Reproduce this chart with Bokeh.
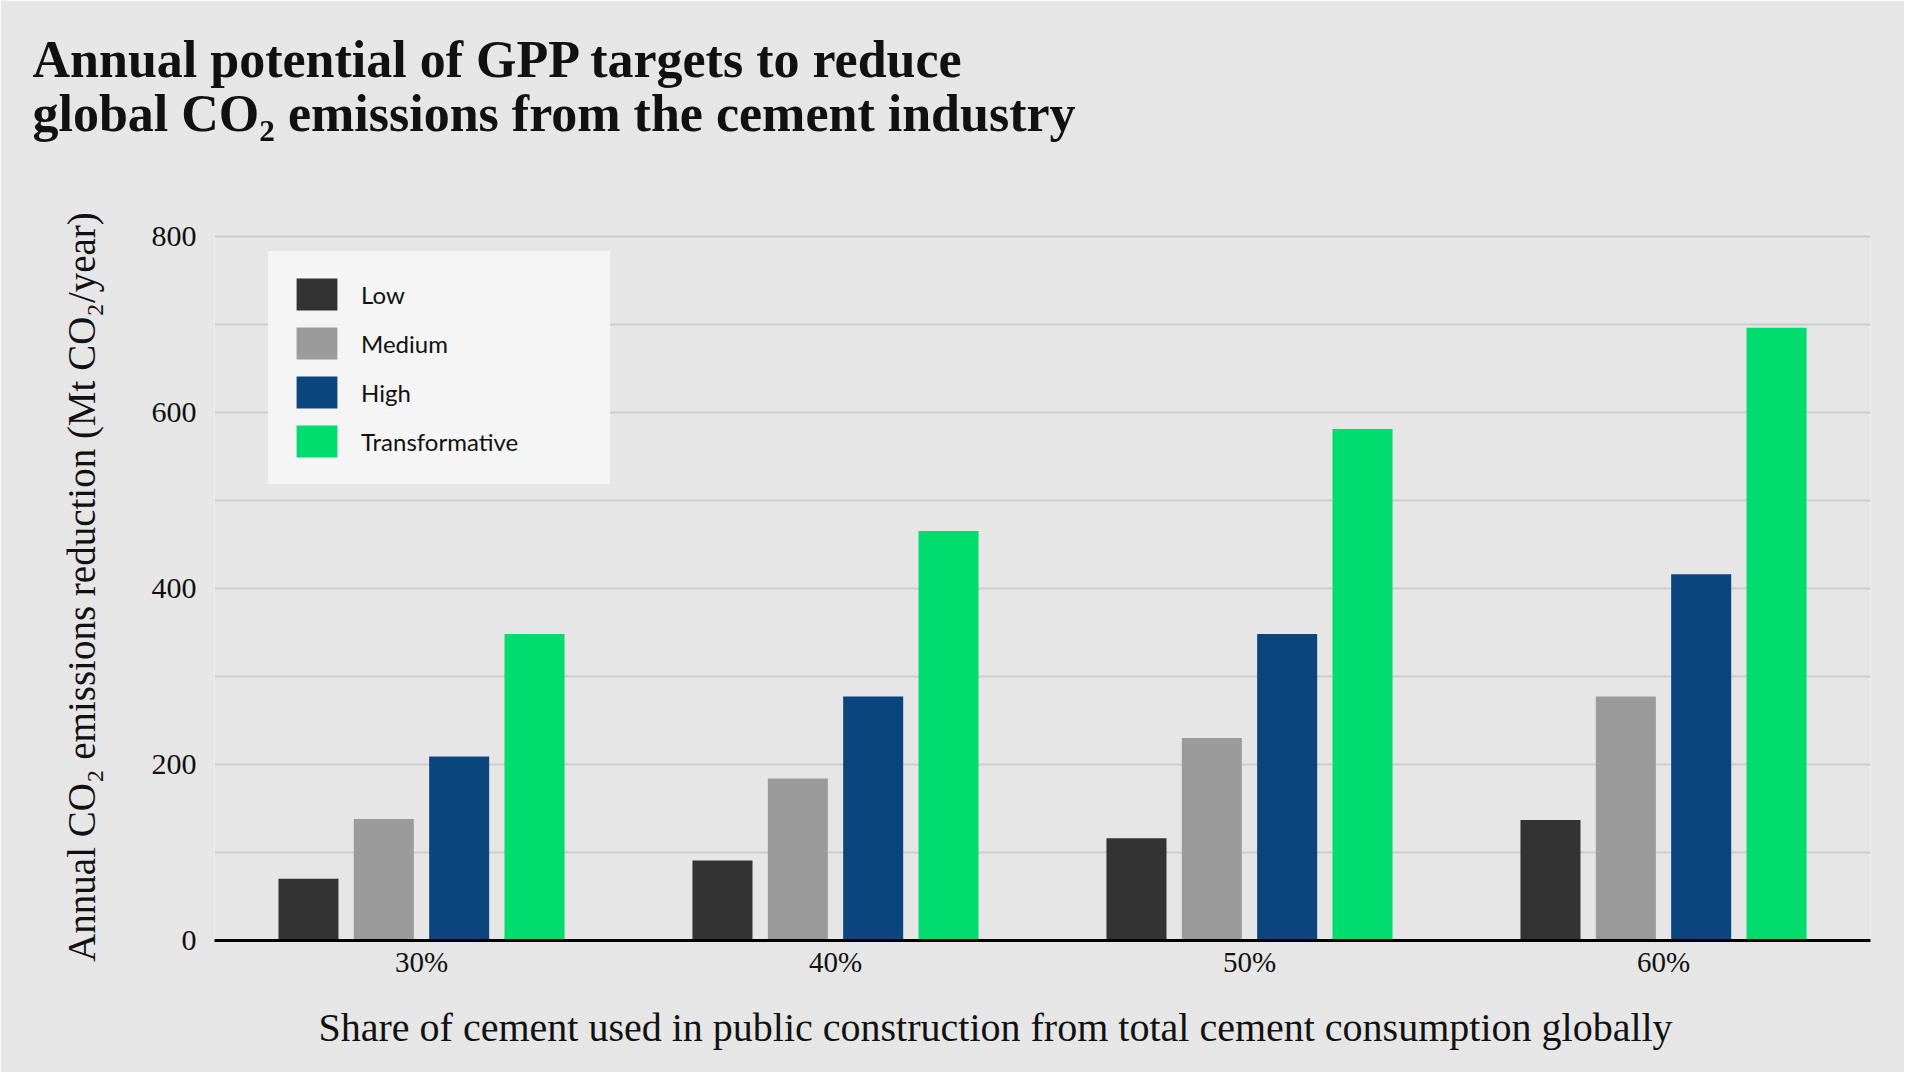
from bokeh.plotting import figure
from bokeh.models import (ColumnDataSource, FactorRange, Range1d, FixedTicker,
                          Legend, LegendItem, Title)
from bokeh.transform import dodge
from bokeh.embed import file_html
from bokeh.resources import INLINE

# ---- data ----
shares = ["30%", "40%", "50%", "60%"]
low = [70, 91, 116, 137]
medium = [138, 184, 230, 277]
high = [209, 277, 348, 416]
transformative = [348, 465, 581, 696]
series_names = ["Low", "Medium", "High", "Transformative"]
series_colors = ["#333333", "#9b9b9b", "#0a457d", "#00dc6e"]
y_ticks = [0, 200, 400, 600, 800]
y_minor = [100, 300, 500, 700]

title_text = ("Annual potential of GPP targets to reduce\n"
              "global CO\u2082 emissions from the cement industry")
x_label = "Share of cement used in public construction from total cement consumption globally"
y_label = "Annual CO\u2082 emissions reduction (Mt CO\u2082/year)"

src = ColumnDataSource(dict(share=shares, Low=low, Medium=medium,
                            High=high, Transformative=transformative))

BG = "#e6e6e6"
SERIF = "Liberation Serif"

W, H = 1904, 1072
p = figure(width=W, height=H, output_backend="svg", toolbar_location=None,
           x_range=FactorRange(factors=shares, range_padding=0),
           y_range=Range1d(0, 803),
           min_border_left=214, min_border_right=34,
           min_border_top=233, min_border_bottom=132)

p.background_fill_color = BG
p.border_fill_color = BG
p.outline_line_color = None

offsets = [-0.273, -0.091, 0.091, 0.273]
renderers = []
for name, color, off in zip(series_names, series_colors, offsets):
    r = p.vbar(x=dodge("share", off, range=p.x_range), top=name, width=0.145,
               source=src, fill_color=color, line_color=None)
    renderers.append(r)

# grid
p.xgrid.grid_line_color = None
p.yaxis.ticker = FixedTicker(ticks=y_ticks, minor_ticks=y_minor)
p.ygrid.grid_line_color = "#cccccc"
p.ygrid.grid_line_width = 2
p.ygrid.minor_grid_line_color = "#cccccc"
p.ygrid.minor_grid_line_width = 2

# y axis
p.yaxis.axis_line_color = None
p.yaxis.major_tick_line_color = None
p.yaxis.minor_tick_line_color = None
p.yaxis.major_tick_out = 0
p.yaxis.major_label_standoff = 14
p.yaxis.major_label_text_font = SERIF
p.yaxis.major_label_text_font_size = "30px"
p.yaxis.major_label_text_color = "#111111"
p.yaxis.axis_label = y_label
p.yaxis.axis_label_text_font = SERIF
p.yaxis.axis_label_text_font_style = "normal"
p.yaxis.axis_label_text_font_size = "39px"
p.yaxis.axis_label_text_color = "#111111"
p.yaxis.axis_label_standoff = 46

# x axis
p.xaxis.axis_line_color = "black"
p.xaxis.axis_line_width = 3
p.xaxis.major_tick_line_color = None
p.xaxis.minor_tick_line_color = None
p.xaxis.major_tick_out = 0
p.xaxis.major_label_standoff = 5
p.xaxis.major_label_text_font = SERIF
p.xaxis.major_label_text_font_size = "29px"
p.xaxis.major_label_text_color = "#111111"

# x axis title (left-aligned like the original, slightly off-centre)
p.add_layout(Title(text=x_label, align="left", offset=104, standoff=44,
                   text_font=SERIF, text_font_style="normal", text_font_size="40px",
                   text_color="#111111"), "below")

# legend
legend = Legend(items=[LegendItem(label=n, renderers=[r]) for n, r in zip(series_names, renderers)],
                location=(54, 456),
                background_fill_color="#f7f7f7", background_fill_alpha=0.85,
                border_line_color="#f7f7f7", border_line_alpha=0.0,
                glyph_width=51, glyph_height=40, spacing=9,
                label_standoff=19, padding=23, margin=0, label_width=226,
                label_text_font="Lato", label_text_font_size="24px",
                label_text_color="#111111")
p.add_layout(legend)

# title: a thin spacer panel next to the frame, then the two-line title above it
p.add_layout(Title(text="\u00a0", text_font_size="2px", standoff=67), "above")
p.add_layout(Title(text=title_text, align="left", offset=-182, standoff=40,
                   text_font=SERIF, text_font_style="bold", text_font_size="52px",
                   text_color="#111111", text_line_height=0.95), "above")

open("out.html", "w").write(file_html(p, INLINE))
